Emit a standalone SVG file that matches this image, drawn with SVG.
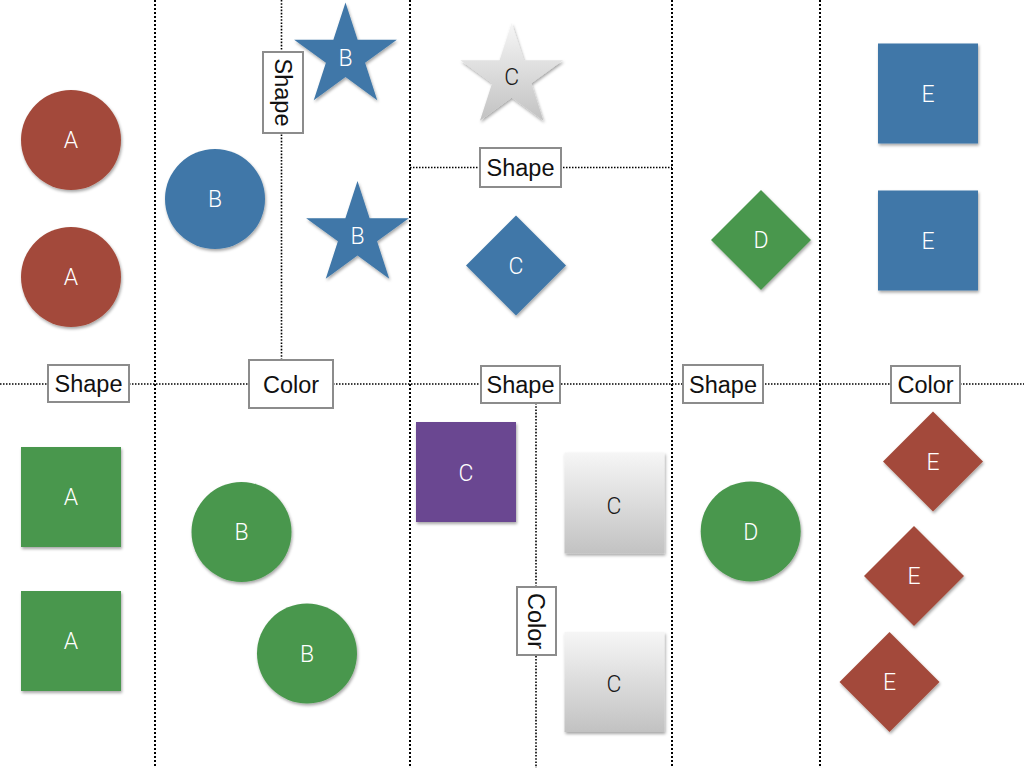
<svg xmlns="http://www.w3.org/2000/svg" xmlns:xlink="http://www.w3.org/1999/xlink" width="1024" height="768" viewBox="0 0 1024 768">
  <defs>
    <filter id="sh" x="-20%" y="-20%" width="140%" height="150%">
      <feDropShadow dx="1" dy="2" stdDeviation="1.6" flood-color="#000" flood-opacity="0.35"/>
    </filter>
    <linearGradient id="gray" x1="0" y1="0" x2="0" y2="1">
      <stop offset="0" stop-color="#f6f6f6"/>
      <stop offset="1" stop-color="#c2c2c2"/>
    </linearGradient>
    <path id="star" d="M0,-54 L12.11,-16.67 L51.36,-16.69 L19.59,6.37 L31.74,43.69 L0,20.6 L-31.74,43.69 L-19.59,6.37 L-51.36,-16.69 L-12.11,-16.67 Z"/>
    <path id="diamond" d="M0,-50 L50,0 L0,50 L-50,0 Z"/>
    <style>
      .red { fill: #a34a3a; }
      .blue { fill: #3f77a8; }
      .green { fill: #4a974d; }
      .purple { fill: #6a4791; }
      .grayfill { fill: url(#gray); }
      .lbl { font-family: "Roboto", "Liberation Sans", Arial, sans-serif; font-weight: 300; font-size: 23px; fill: #ffffff; text-anchor: middle; }
      .lbl.dark { fill: #1a1a1a; }
      .vline { stroke: #000; stroke-width: 2; stroke-dasharray: 2 2; fill: none; }
      .vthin { stroke: #000; stroke-width: 1.6; stroke-dasharray: 1.6 1.6; fill: none; }
      .hline { stroke: #000; stroke-width: 1.5; stroke-dasharray: 1.5 1.5; fill: none; }
      .box { fill: #ffffff; stroke: #8c8c8c; stroke-width: 2; }
      .btxt { font-family: "Liberation Sans", Arial, sans-serif; font-size: 23.5px; fill: #111; text-anchor: middle; }
    </style>
  </defs>

  <rect x="0" y="0" width="1024" height="768" fill="#ffffff"/>

  <g id="connectors">
    <line class="vline" x1="155" y1="0" x2="155" y2="768"/>
    <line class="vline" x1="410" y1="0" x2="410" y2="768"/>
    <line class="vline" x1="672" y1="0" x2="672" y2="768"/>
    <line class="vline" x1="820" y1="0" x2="820" y2="768"/>
    <line class="vthin" x1="281.5" y1="0" x2="281.5" y2="359"/>
    <line class="vthin" x1="536" y1="403" x2="536" y2="768"/>
    <line class="hline" x1="0" y1="384" x2="1024" y2="384"/>
    <line class="hline" x1="410" y1="167.5" x2="672" y2="167.5"/>
  </g>

  <g id="split-labels">
    <g id="lbl-shape-1">
      <rect class="box" x="48" y="365" width="81" height="37"/>
      <text class="btxt" x="88.5" y="392">Shape</text>
    </g>
    <g id="lbl-color-1">
      <rect class="box" x="249" y="360" width="84" height="48"/>
      <text class="btxt" x="291" y="392.5">Color</text>
    </g>
    <g id="lbl-shape-vert">
      <rect class="box" x="263" y="52" width="40" height="81"/>
      <text class="btxt" transform="translate(283,92.5) rotate(90)" x="0" y="8.5">Shape</text>
    </g>
    <g id="lbl-shape-2">
      <rect class="box" x="480" y="148" width="81" height="39"/>
      <text class="btxt" x="520.5" y="176">Shape</text>
    </g>
    <g id="lbl-shape-3">
      <rect class="box" x="481" y="366" width="79" height="37"/>
      <text class="btxt" x="520.5" y="393">Shape</text>
    </g>
    <g id="lbl-color-vert">
      <rect class="box" x="517" y="587" width="39" height="68"/>
      <text class="btxt" transform="translate(536.5,621) rotate(90)" x="0" y="8.5">Color</text>
    </g>
    <g id="lbl-shape-4">
      <rect class="box" x="683" y="365" width="80" height="38"/>
      <text class="btxt" x="723" y="392.5">Shape</text>
    </g>
    <g id="lbl-color-2">
      <rect class="box" x="891" y="366" width="69" height="37"/>
      <text class="btxt" x="925.5" y="392.5">Color</text>
    </g>
  </g>

  <!-- Column A -->
  <g id="node-a1">
    <circle class="red" cx="71" cy="140" r="50" filter="url(#sh)"/>
    <text class="lbl" x="71" y="148">A</text>
  </g>
  <g id="node-a2">
    <circle class="red" cx="71" cy="277" r="50" filter="url(#sh)"/>
    <text class="lbl" x="71" y="285">A</text>
  </g>
  <g id="node-a3">
    <rect class="green" x="21" y="447" width="100" height="100" filter="url(#sh)"/>
    <text class="lbl" x="71" y="505">A</text>
  </g>
  <g id="node-a4">
    <rect class="green" x="21" y="591" width="100" height="100" filter="url(#sh)"/>
    <text class="lbl" x="71" y="649">A</text>
  </g>

  <!-- Column B -->
  <g id="node-b1">
    <circle class="blue" cx="215" cy="199" r="50" filter="url(#sh)"/>
    <text class="lbl" x="215" y="207">B</text>
  </g>
  <g id="node-b2" transform="translate(345.5,56.5)">
    <use xlink:href="#star" href="#star" class="blue" filter="url(#sh)"/>
    <text class="lbl" x="0" y="9">B</text>
  </g>
  <g id="node-b3" transform="translate(357.5,235)">
    <use xlink:href="#star" href="#star" class="blue" filter="url(#sh)"/>
    <text class="lbl" x="0" y="9">B</text>
  </g>
  <g id="node-b4">
    <circle class="green" cx="241.5" cy="532" r="50" filter="url(#sh)"/>
    <text class="lbl" x="241.5" y="540">B</text>
  </g>
  <g id="node-b5">
    <circle class="green" cx="307" cy="653.5" r="50" filter="url(#sh)"/>
    <text class="lbl" x="307" y="661.5">B</text>
  </g>

  <!-- Column C -->
  <g id="node-c1" transform="translate(511.7,77)">
    <use xlink:href="#star" href="#star" class="grayfill" filter="url(#sh)"/>
    <text class="lbl dark" x="0" y="8">C</text>
  </g>
  <g id="node-c2" transform="translate(516,265.5)">
    <use xlink:href="#diamond" href="#diamond" class="blue" filter="url(#sh)"/>
    <text class="lbl" x="0" y="8">C</text>
  </g>
  <g id="node-c3">
    <rect class="purple" x="416" y="422" width="100" height="100" filter="url(#sh)"/>
    <text class="lbl" x="466" y="481">C</text>
  </g>
  <g id="node-c4">
    <rect class="grayfill" x="564.5" y="452.5" width="100" height="101" filter="url(#sh)"/>
    <text class="lbl dark" x="614" y="514">C</text>
  </g>
  <g id="node-c5">
    <rect class="grayfill" x="564.5" y="632" width="100" height="100" filter="url(#sh)"/>
    <text class="lbl dark" x="614" y="692">C</text>
  </g>

  <!-- Column D -->
  <g id="node-d1" transform="translate(761,240)">
    <use xlink:href="#diamond" href="#diamond" class="green" filter="url(#sh)"/>
    <text class="lbl" x="0" y="8">D</text>
  </g>
  <g id="node-d2">
    <circle class="green" cx="750.7" cy="531.5" r="50" filter="url(#sh)"/>
    <text class="lbl" x="750.7" y="539.5">D</text>
  </g>

  <!-- Column E -->
  <g id="node-e1">
    <rect class="blue" x="878" y="43.5" width="100" height="100" filter="url(#sh)"/>
    <text class="lbl" x="928" y="101.5">E</text>
  </g>
  <g id="node-e2">
    <rect class="blue" x="878" y="190.5" width="100" height="100" filter="url(#sh)"/>
    <text class="lbl" x="928" y="248.5">E</text>
  </g>
  <g id="node-e3" transform="translate(933,461.5)">
    <use xlink:href="#diamond" href="#diamond" class="red" filter="url(#sh)"/>
    <text class="lbl" x="0" y="8">E</text>
  </g>
  <g id="node-e4" transform="translate(914,576)">
    <use xlink:href="#diamond" href="#diamond" class="red" filter="url(#sh)"/>
    <text class="lbl" x="0" y="8">E</text>
  </g>
  <g id="node-e5" transform="translate(889.5,682)">
    <use xlink:href="#diamond" href="#diamond" class="red" filter="url(#sh)"/>
    <text class="lbl" x="0" y="8">E</text>
  </g>
</svg>
